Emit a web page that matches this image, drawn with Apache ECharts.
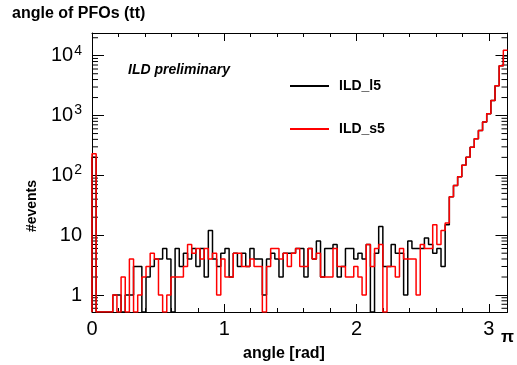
<!DOCTYPE html>
<html><head><meta charset="utf-8">
<script src="https://cdn.jsdelivr.net/npm/echarts@6/dist/echarts.min.js"></script>
<style>html,body{margin:0;padding:0;background:#fff}#c{width:517px;height:365px}</style>
</head><body><div id="c"></div>
<script>
// ---- chart text ----
const chartTitle = 'angle of PFOs (tt)';
const xTitle = 'angle [rad]';
const yTitle = '#events';
const watermark = 'ILD preliminary';
const seriesNames = ['ILD_l5', 'ILD_s5'];
const seriesColors = ['#000000', '#ff0000'];

// ---- axes ----
const xMin = 0, xMax = Math.PI;
const xTickValues = [0, 1, 2, 3];
const yMin = 0.52, yMax = 24000;
const yMinorMultipliers = [2, 3, 4, 5, 6, 7, 8, 9];
const yDecades = [0.1, 1, 10, 100, 1000, 10000];

// ---- histogram contents (100 bins from 0 to pi) ----
const countsL5 = [
  200, 0, 0, 0, 0, 1, 1, 0, 1, 1,
  3, 3, 0, 2, 3, 4, 4, 6, 4, 0,
  6, 3, 5, 4, 6, 3, 6, 2, 12, 4,
  3, 5, 6, 2, 5, 3, 5, 3, 6, 4,
  4, 1, 4, 5, 4, 2, 5, 5, 5, 6,
  6, 2, 6, 4, 8, 2, 6, 6, 7, 2,
  3, 6, 6, 4, 5, 4, 7, 0, 5, 14,
  3, 3, 7, 5, 5, 1, 8, 6, 6, 6,
  9, 7, 5, 6, 3, 15, 44, 68, 95, 148,
  200, 295, 410, 560, 780, 1070, 1780, 3160, 6800, 10000
];
const countsS5 = [
  230, 0, 0, 0, 0, 1, 0, 2, 0, 4,
  0, 1, 2, 3, 5, 4, 1, 0, 1, 2,
  2, 2, 3, 7, 5, 6, 4, 6, 4, 5,
  1, 4, 2, 2, 5, 5, 3, 3, 4, 3,
  3, 0, 3, 6, 6, 4, 5, 3, 5, 6,
  3, 3, 6, 4, 5, 2, 2, 2, 6, 3,
  3, 2, 2, 3, 2, 1, 7, 3, 6, 7,
  0, 3, 3, 2, 6, 4, 4, 4, 1, 7,
  6, 6, 15, 7, 12, 16, 44, 68, 95, 148,
  200, 295, 410, 560, 780, 1070, 1780, 3160, 6800, 12400
];

function histSteps(counts) {
  const w = (xMax - xMin) / counts.length;
  const pts = [[xMin, yMin]];
  counts.forEach((c, i) => pts.push([xMin + i * w, c > 0 ? c : yMin]));
  const last = counts[counts.length - 1];
  pts.push([xMax, last > 0 ? last : yMin]);
  return pts;
}

const minorTickData = [];
yDecades.forEach(d => yMinorMultipliers.forEach(m => {
  const v = m * d;
  if (v > yMin && v < yMax) minorTickData.push([xMin, v]);
}));

const FONT = 'Liberation Sans';
function yLabel(v) {
  const k = Math.log10(v);
  const r = Math.round(k);
  if (Math.abs(k - r) > 1e-6) return '';
  if (r === 0) return '1';
  if (r === 1) return '10';
  return '10{s|' + r + '}';
}
function xLabel(v) {
  if (Math.abs(v - Math.PI) < 1e-6) return '{pi|π}';
  if (Math.abs(v - Math.round(v)) < 1e-6) return String(Math.round(v));
  return '';
}

const axisLineStyle = { color: '#000', width: 1 };
const chart = echarts.init(document.getElementById('c'), null, { renderer: 'canvas' });
chart.setOption({
  animation: false,
  backgroundColor: '#fff',
  title: {
    text: chartTitle, left: 7, top: 1,
    textStyle: { fontFamily: FONT, fontSize: 16, fontWeight: 'bold', color: '#000' }
  },
  grid: { left: 92, right: 7, top: 33, bottom: 53, containLabel: false },
  legend: {
    orient: 'vertical', left: 285, top: 74, itemWidth: 39, itemHeight: 2, itemGap: 29,
    icon: 'rect', data: seriesNames,
    textStyle: { fontFamily: FONT, fontSize: 14, fontWeight: 'bold', color: '#000', padding: [0, 0, 0, 5] }
  },
  xAxis: [
    {
      type: 'value', min: xMin, max: xMax, interval: 1, position: 'bottom',
      axisLine: { show: true, onZero: false, lineStyle: axisLineStyle },
      axisTick: { show: true, inside: true, length: 8, lineStyle: { color: '#000' } },
      minorTick: { show: true, splitNumber: 5, length: 4, lineStyle: { color: '#000' } },
      splitLine: { show: false },
      axisLabel: {
        show: true, showMaxLabel: true, showMinLabel: true, margin: 7, color: '#000',
        fontFamily: FONT, fontSize: 20, formatter: xLabel,
        rich: { pi: { fontFamily: FONT, fontSize: 17, fontWeight: 'bold', color: '#000', padding: [10, 0, 0, 0] } }
      }
    },
    {
      type: 'value', min: xMin, max: xMax, interval: 1, position: 'top',
      axisLine: { show: true, onZero: false, lineStyle: axisLineStyle },
      axisTick: { show: true, inside: true, length: 8, lineStyle: { color: '#000' } },
      minorTick: { show: true, splitNumber: 5, length: 4, lineStyle: { color: '#000' } },
      splitLine: { show: false },
      axisLabel: { show: false }
    }
  ],
  yAxis: [
    {
      type: 'log', logBase: 10, min: yMin, max: yMax, position: 'left',
      axisLine: { show: true, onZero: false, lineStyle: axisLineStyle },
      axisTick: { show: true, inside: true, length: 12, lineStyle: { color: '#000' } },
      splitLine: { show: false },
      axisLabel: {
        show: true, margin: 10, color: '#000', fontFamily: FONT, fontSize: 20,
        showMinLabel: false, showMaxLabel: false, formatter: yLabel,
        rich: { s: { fontFamily: FONT, fontSize: 14, color: '#000', verticalAlign: 'top', padding: [0, 0, 10, 1] } }
      }
    },
    {
      type: 'log', logBase: 10, min: yMin, max: yMax, position: 'right',
      axisLine: { show: true, onZero: false, lineStyle: axisLineStyle },
      axisTick: { show: true, inside: true, length: 12, lineStyle: { color: '#000' } },
      splitLine: { show: false },
      axisLabel: { show: false }
    }
  ],
  series: [
    {
      name: seriesNames[0], type: 'line', step: 'end', data: histSteps(countsL5),
      xAxisIndex: 0, yAxisIndex: 0, showSymbol: false, symbol: 'none', clip: true,
      color: seriesColors[0], lineStyle: { color: seriesColors[0], width: 1.5 }, silent: true
    },
    {
      name: seriesNames[1], type: 'line', step: 'end', data: histSteps(countsS5),
      xAxisIndex: 0, yAxisIndex: 0, showSymbol: false, symbol: 'none', clip: true,
      color: seriesColors[1], lineStyle: { color: seriesColors[1], width: 1.5 }, silent: true
    },
    {
      name: 'minorTicks', type: 'custom', xAxisIndex: 0, yAxisIndex: 0, silent: true,
      data: minorTickData, encode: { x: 0, y: 1 },
      renderItem: function (params, api) {
        const v = api.value(1);
        const l = api.coord([xMin, v]);
        const r = api.coord([xMax, v]);
        return {
          type: 'group', children: [
            { type: 'line', shape: { x1: l[0], y1: l[1], x2: l[0] + 6, y2: l[1] }, style: { stroke: '#000', lineWidth: 1 } },
            { type: 'line', shape: { x1: r[0] - 6, y1: r[1], x2: r[0], y2: r[1] }, style: { stroke: '#000', lineWidth: 1 } }
          ]
        };
      }
    }
  ],
  graphic: [
    { type: 'text', left: 128, top: 63, style: { text: watermark, font: 'italic bold 14px "Liberation Sans"', fill: '#000' } },
    { type: 'text', x: 32, y: 206, rotation: Math.PI / 2, style: { text: yTitle, font: 'bold 14px "Liberation Sans"', fill: '#000', align: 'center', verticalAlign: 'middle' } },
    { type: 'text', x: 284, y: 354, style: { text: xTitle, font: 'bold 16px "Liberation Sans"', fill: '#000', align: 'center', verticalAlign: 'middle' } }
  ]
});
</script></body></html>
